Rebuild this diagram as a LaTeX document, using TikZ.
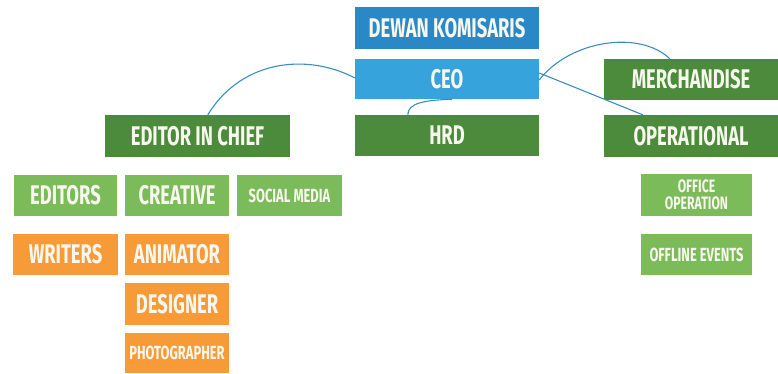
\documentclass[tikz,border=0pt]{standalone}
\usepackage{fontspec}
\setmainfont{Fira Sans}[FakeStretch=0.68]
\usetikzlibrary{calc}
\definecolor{dblue}{HTML}{2B88C6}
\definecolor{lblue}{HTML}{36A3DC}
\definecolor{dgreen}{HTML}{4B8B3B}
\definecolor{lgreen}{HTML}{7CBB59}
\definecolor{orng}{HTML}{F79B38}
\definecolor{txt}{HTML}{F7F7EE}
\definecolor{link}{HTML}{3A8FC0}
\tikzset{
  box/.style={rectangle, inner sep=0pt, text=txt, font=\fontsize{27}{27}\selectfont\bfseries, align=center},
  smallbox/.style={box, font=\fontsize{19}{19}\selectfont\bfseries},
  tinybox/.style={box, font=\fontsize{18}{17}\selectfont\bfseries},
  conn/.style={draw=link, line width=1.1pt},
}
\begin{document}
\begin{tikzpicture}[x=1pt,y=-1pt]
\useasboundingbox (0,0) rectangle (778,373);
\fill[white] (0,0) rectangle (778,373);
\node[box, fill=dblue, minimum width=184pt, minimum height=42pt] (dk) at (447,28) {DEWAN KOMISARIS};
\node[box, fill=lblue, minimum width=184pt, minimum height=40pt] (ceo) at (447,79) {CEO};
\node[box, fill=dgreen, minimum width=184pt, minimum height=41pt] (hrd) at (447,135.5) {HRD};
\node[box, fill=dgreen, minimum width=174pt, minimum height=41pt] (mer) at (691,79.5) {MERCHANDISE};
\node[box, fill=dgreen, minimum width=174pt, minimum height=42pt] (ops) at (691,136) {OPERATIONAL};
\node[box, fill=dgreen, minimum width=185pt, minimum height=42pt] (eic) at (197.5,136) {EDITOR IN CHIEF};
\node[box, fill=lgreen, minimum width=103pt, minimum height=41pt] (edi) at (65.5,195.5) {EDITORS};
\node[box, fill=lgreen, minimum width=104pt, minimum height=41pt] (cre) at (177,195.5) {CREATIVE};
\node[smallbox, fill=lgreen, minimum width=105pt, minimum height=41pt] (soc) at (289.5,195.5) {SOCIAL MEDIA};
\node[box, fill=orng, minimum width=105pt, minimum height=41pt] (wri) at (65.5,254.5) {WRITERS};
\node[box, fill=orng, minimum width=104pt, minimum height=41pt] (ani) at (177,254.5) {ANIMATOR};
\node[box, fill=orng, minimum width=104pt, minimum height=42pt] (des) at (177,304) {DESIGNER};
\node[smallbox, fill=orng, minimum width=104pt, minimum height=40pt] (pho) at (177,353) {PHOTOGRAPHER};
\node[tinybox, fill=lgreen, minimum width=111pt, minimum height=42pt] (off) at (696.5,195) {OFFICE\\OPERATION};
\node[smallbox, fill=lgreen, minimum width=111pt, minimum height=41pt] (ofe) at (696.5,254.5) {OFFLINE EVENTS};
% connectors
\coordinate (a1) at ($(ceo.west)+(0,-1)$);
\coordinate (a2) at ($(eic.north west)+(103,0)$);
\draw[conn] (a2) .. controls ($(a2)+(35,-57)$) and ($(a1)+(-45,-24)$) .. (a1);
\coordinate (b1) at ($(ceo.south)+(5,0)$);
\coordinate (b2) at ($(hrd.north west)+(53,0)$);
\draw[conn] (b1) .. controls ($(b1)+(-27,1)$) and ($(b2)+(0,-12)$) .. (b2);
\coordinate (c1) at ($(ceo.east)+(0,1)$);
\coordinate (c2) at ($(mer.north west)+(66,0)$);
\draw[conn] (c1) .. controls ($(c1)+(31,-40)$) and ($(c2)+(-30,-29)$) .. (c2);
\coordinate (d1) at ($(ceo.east)+(0,-6)$);
\coordinate (d2) at ($(ops.north west)+(39,0)$);
\draw[conn] (d1) .. controls ($(d1)+(40,16)$) and ($(d2)+(-25,-10)$) .. (d2);
\end{tikzpicture}
\end{document}
